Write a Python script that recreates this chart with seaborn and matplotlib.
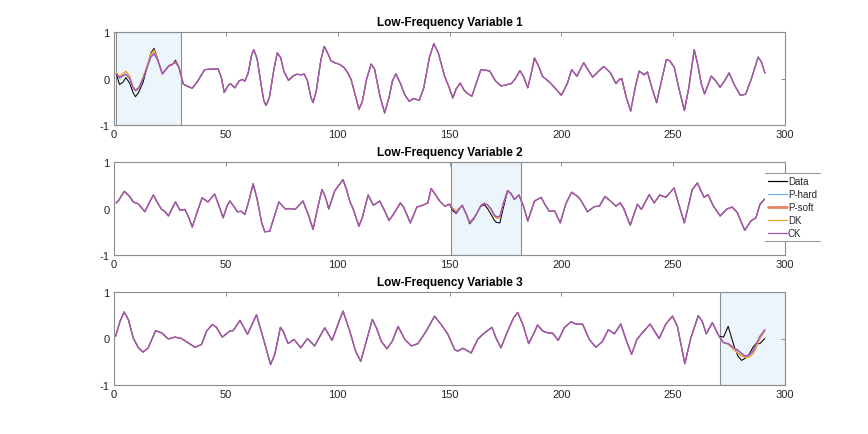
import matplotlib
matplotlib.use("Agg")
import matplotlib.pyplot as plt
from matplotlib.patches import Rectangle
from matplotlib.lines import Line2D
import seaborn as sns

# ---------------- data ----------------
series_names = ["Data", "P-hard", "P-soft", "DK", "CK"]
titles = ["Low-Frequency Variable 1", "Low-Frequency Variable 2", "Low-Frequency Variable 3"]
x_ticks = [0, 50, 100, 150, 200, 250, 300]
y_ticks = [-1, 0, 1]
windows = [(1, 30), (150.5, 182), (271, 300)]

# Variable 1 : highlighted window (models differ)
v1_win_x = [1, 2.5, 4, 5.3, 7, 8.5, 9.6, 11, 13, 15, 16.5, 17.9, 19.5, 21.6, 23, 24.5, 26, 27.5, 29, 31]
v1_win_data = [0.10, -0.13, -0.08, 0.02, -0.10, -0.30, -0.39, -0.30, -0.08, 0.28, 0.55, 0.65, 0.42, 0.10, 0.18, 0.28, 0.30, 0.39, 0.25, -0.12]
v1_win_phard = [0.11, 0.00, 0.05, 0.10, 0.00, -0.20, -0.27, -0.22, 0.00, 0.27, 0.48, 0.56, 0.40, 0.11, 0.18, 0.27, 0.30, 0.36, 0.24, -0.12]
v1_win_psoft = [0.12, 0.04, 0.10, 0.15, 0.05, -0.18, -0.25, -0.20, 0.02, 0.30, 0.52, 0.62, 0.42, 0.11, 0.18, 0.27, 0.31, 0.36, 0.24, -0.12]
v1_win_dk = [0.13, 0.05, 0.11, 0.16, 0.06, -0.17, -0.24, -0.19, 0.03, 0.30, 0.53, 0.60, 0.41, 0.11, 0.18, 0.28, 0.31, 0.36, 0.24, -0.12]
v1_win_ck = [0.10, 0.02, 0.06, 0.09, 0.00, -0.20, -0.26, -0.21, 0.00, 0.26, 0.46, 0.53, 0.40, 0.10, 0.18, 0.27, 0.30, 0.35, 0.24, -0.12]
# Variable 1 : rest (all series overlap)
v1_rest_x = [33, 35, 37.5, 40.5, 43, 46.5, 48, 49.3, 51, 52, 54, 56, 57.5, 58.5, 60, 61.5, 62.5, 64, 66, 67, 68, 69.5,
             71.5, 73, 74.5, 76, 78, 80, 81.5, 84, 85, 86.5, 88, 89, 90.5, 92.5, 94, 95.5, 97, 98.7, 101, 103, 104.5,
             106, 108, 109.5, 111, 113, 115, 116.5, 119, 121, 123, 124.5, 126, 128, 130, 132, 134, 136.5, 138.5, 141,
             143, 145, 147.8, 149.5, 151.5, 153, 154.8, 156.5, 158, 160, 162, 164, 166, 168, 170.5, 173, 175, 177.6,
             179.5, 181.5, 183, 185, 186.5, 188, 190, 191.5, 195, 198, 200, 201.5, 202.8, 204.6, 207, 210, 212, 214,
             216.5, 219, 222, 224.4, 226, 227, 229, 231, 233, 234.8, 237, 238.5, 240.5, 242.6, 245, 247, 248.5, 250.5,
             252.5, 255, 257, 259.4, 261, 262.5, 264, 265.5, 267, 269, 271, 273, 275, 277.5, 280, 282.4, 285, 288,
             289.5, 291]
v1_rest_y = [-0.17, -0.21, -0.05, 0.19, 0.20, 0.21, 0.02, -0.30, -0.15, -0.11, -0.20, -0.05, -0.02, -0.06, 0.12, 0.50,
             0.62, 0.42, -0.20, -0.48, -0.58, -0.40, 0.20, 0.55, 0.45, 0.15, -0.04, 0.05, 0.09, 0.08, 0.10, -0.05,
             -0.40, -0.52, -0.25, 0.40, 0.69, 0.55, 0.38, 0.34, 0.30, 0.23, 0.12, -0.02, -0.38, -0.66, -0.50, 0.00,
             0.31, 0.20, -0.40, -0.74, -0.40, -0.05, 0.10, -0.10, -0.35, -0.49, -0.43, -0.47, -0.20, 0.45, 0.75,
             0.55, 0.05, -0.15, -0.42, -0.22, -0.10, -0.25, -0.32, -0.38, -0.10, 0.19, 0.18, 0.16, -0.05, -0.16,
             -0.14, -0.11, 0.00, 0.17, 0.05, -0.20, 0.10, 0.44, 0.25, 0.05, -0.09, -0.25, -0.36, -0.22, -0.09, 0.19,
             0.05, 0.34, 0.18, 0.03, 0.15, 0.26, 0.12, -0.11, -0.02, 0.00, -0.40, -0.70, -0.20, 0.16, 0.08, 0.14,
             -0.20, -0.52, 0.00, 0.41, 0.38, 0.24, -0.20, -0.69, -0.20, 0.62, 0.30, -0.10, -0.33, -0.15, 0.05,
             -0.05, -0.19, -0.05, 0.12, -0.15, -0.36, -0.34, 0.00, 0.46, 0.35, 0.12]

# Variable 2 : before window
v2_pre_x = [1, 2, 4.6, 7, 8.6, 10.9, 13.8, 15.5, 17.6, 19.5, 21.3, 22.5, 24.3, 26, 27.5, 29.5, 31.7, 33.5, 35, 37,
            39.4, 42, 45, 47, 48.8, 50.5, 51.8, 53.5, 55.2, 57, 58.5, 60.5, 62.2, 64, 66, 67.4, 69.6, 71.5, 73.7,
            76.6, 78.6, 81, 84.5, 87, 89, 91, 93, 94.5, 96, 98.7, 102.4, 104, 105.4, 107, 109.5, 111, 113.6, 116,
            118.8, 121, 123, 125.4, 128, 129.5, 132.5, 135.4, 138, 140.3, 141.8, 144, 145.6, 147.8]
v2_pre_y = [0.12, 0.17, 0.37, 0.26, 0.14, 0.10, -0.07, 0.10, 0.29, 0.12, -0.02, -0.05, -0.16, 0.00, 0.14, -0.04,
            -0.02, -0.20, -0.40, -0.10, 0.23, 0.14, 0.31, 0.05, -0.20, 0.05, 0.16, 0.05, -0.07, -0.06, -0.13, 0.20,
            0.53, 0.20, -0.30, -0.50, -0.49, -0.20, 0.14, -0.01, 0.00, -0.02, 0.16, -0.15, -0.45, 0.00, 0.41, 0.25,
            -0.01, 0.38, 0.62, 0.40, 0.16, -0.02, -0.38, -0.20, 0.29, 0.07, 0.16, -0.05, -0.26, -0.09, 0.12, 0.03,
            -0.31, 0.03, 0.07, 0.12, 0.43, 0.28, 0.16, 0.05]
# Variable 2 : highlighted window
v2_win_x = [150, 151.5, 153, 154.5, 155.7, 157.5, 159, 161, 162.7, 164, 165.6, 167, 168.5, 170, 171, 172.5, 174,
            176, 177.5, 179, 181, 183]
v2_win_data = [0.09, -0.05, -0.11, 0.00, 0.07, -0.12, -0.33, -0.22, -0.06, 0.05, 0.08, 0.00, -0.12, -0.25, -0.30,
               -0.31, 0.00, 0.38, 0.32, 0.20, 0.29, 0.06]
v2_win_phard = [0.09, -0.02, -0.09, 0.00, 0.07, -0.12, -0.30, -0.20, -0.06, 0.06, 0.11, 0.08, 0.00, -0.13, -0.17,
                -0.17, 0.10, 0.39, 0.32, 0.19, 0.29, 0.06]
v2_win_psoft = [0.10, 0.00, -0.06, 0.02, 0.06, -0.13, -0.31, -0.21, -0.07, 0.06, 0.12, 0.07, -0.02, -0.16, -0.20,
                -0.20, 0.08, 0.38, 0.33, 0.20, 0.30, 0.07]
v2_win_dk = [0.10, 0.01, -0.05, 0.02, 0.06, -0.13, -0.31, -0.21, -0.07, 0.06, 0.12, 0.07, -0.02, -0.16, -0.21,
             -0.20, 0.08, 0.38, 0.33, 0.20, 0.30, 0.07]
v2_win_ck = [0.09, -0.02, -0.10, 0.00, 0.07, -0.12, -0.30, -0.20, -0.06, 0.06, 0.11, 0.08, 0.00, -0.14, -0.18,
             -0.17, 0.10, 0.39, 0.32, 0.19, 0.29, 0.06]
# Variable 2 : after window
v2_post_x = [185, 186.5, 188, 191, 192.5, 194.6, 197, 199.5, 202, 204.6, 207.3, 208.8, 211.7, 214.7, 217, 219.5,
             222, 224.4, 226.3, 227.8, 230.8, 234, 235.8, 239.3, 241.5, 244, 246.7, 250.4, 253, 255, 257, 258.5,
             260.8, 263.8, 265.6, 268, 271, 274, 276.4, 278.7, 282, 284.7, 287, 288.8, 291]
v2_post_y = [-0.27, -0.05, 0.16, 0.24, 0.10, -0.06, -0.05, -0.31, 0.10, 0.35, 0.26, 0.17, -0.07, 0.04, 0.05, 0.26,
             0.16, 0.05, 0.12, 0.01, -0.36, 0.09, -0.02, 0.30, 0.12, 0.29, 0.24, 0.44, 0.01, -0.31, 0.09, 0.40,
             0.55, 0.24, 0.30, 0.05, -0.16, -0.01, 0.03, -0.09, -0.47, -0.27, -0.20, 0.09, 0.21]

# Variable 3 : before window
v3_pre_x = [0.7, 2.7, 4.5, 6.4, 8.6, 10.9, 13, 15.3, 18.6, 21.3, 24.3, 27.2, 30.2, 32.4, 36.2, 39.1, 41.4, 44,
            45.8, 48.4, 51.8, 53.3, 56.3, 59.7, 63.7, 66.7, 70, 71.9, 74.4, 75.6, 77.8, 80.5, 83.5, 86.5, 89.7,
            94.2, 97.5, 100.5, 102.4, 105.4, 108, 110.3, 112.8, 115.5, 117.3, 119.5, 122, 124.4, 127, 130, 133,
            135.9, 139.6, 143.3, 146.3, 149.3, 152.3, 153.7, 156, 159.7, 162.6, 164.9, 167.6, 169, 170.8, 173, 176,
            178.6, 180.5, 182.8, 185.4, 187.5, 189.4, 191.7, 194, 196, 198.6, 201.3, 204.3, 206.5, 209.5, 212.5,
            215.5, 218.4, 221, 223.7, 226.6, 228.9, 231.4, 233.8, 235.8, 239.7, 243.7, 246.7, 249.7, 251.9, 255.2,
            257.9, 261.2, 263, 264.8, 267.5]
v3_pre_y = [0.05, 0.37, 0.57, 0.41, 0.01, -0.20, -0.29, -0.20, 0.17, 0.12, -0.01, 0.03, 0.00, -0.07, -0.19, -0.13,
            0.16, 0.30, 0.24, 0.03, 0.16, 0.17, 0.39, 0.09, 0.51, 0.01, -0.56, -0.34, 0.24, 0.16, -0.11, -0.02,
            -0.20, 0.00, -0.16, 0.23, -0.04, 0.35, 0.59, 0.16, -0.27, -0.49, -0.06, 0.41, 0.23, -0.06, -0.22,
            -0.06, 0.26, -0.02, -0.16, -0.11, 0.16, 0.48, 0.30, 0.09, -0.24, -0.27, -0.21, -0.31, -0.02, 0.09,
            0.19, 0.24, 0.01, -0.20, 0.16, 0.44, 0.56, 0.30, -0.11, 0.09, 0.29, 0.16, 0.12, 0.12, -0.04, 0.23,
            0.36, 0.31, 0.31, -0.02, -0.19, -0.06, 0.19, 0.10, 0.31, -0.02, -0.34, -0.02, 0.10, 0.31, 0.00, 0.31,
            0.48, 0.26, -0.54, 0.01, 0.49, 0.37, 0.10, 0.34]
# Variable 3 : highlighted window
v3_win_x = [270.5, 272.5, 274.6, 277.2, 279, 280.6, 282.4, 283.9, 285.8, 287, 288.8, 291]
v3_win_data = [0.05, 0.03, 0.26, -0.16, -0.38, -0.47, -0.42, -0.34, -0.18, -0.11, -0.11, 0.00]
v3_win_phard = [0.05, -0.09, -0.11, -0.21, -0.27, -0.34, -0.39, -0.37, -0.28, -0.14, 0.03, 0.18]
v3_win_psoft = [0.05, -0.08, -0.12, -0.24, -0.31, -0.37, -0.40, -0.40, -0.32, -0.20, 0.00, 0.17]
v3_win_dk = [0.05, -0.08, -0.13, -0.25, -0.32, -0.38, -0.41, -0.40, -0.33, -0.21, -0.01, 0.16]
v3_win_ck = [0.05, -0.09, -0.11, -0.20, -0.25, -0.32, -0.38, -0.35, -0.26, -0.12, 0.05, 0.19]

# ---------------- assemble series ----------------
panels = [
    {"x": v1_win_x + v1_rest_x,
     "Data": v1_win_data + v1_rest_y, "P-hard": v1_win_phard + v1_rest_y,
     "P-soft": v1_win_psoft + v1_rest_y, "DK": v1_win_dk + v1_rest_y, "CK": v1_win_ck + v1_rest_y},
    {"x": v2_pre_x + v2_win_x + v2_post_x,
     "Data": v2_pre_y + v2_win_data + v2_post_y, "P-hard": v2_pre_y + v2_win_phard + v2_post_y,
     "P-soft": v2_pre_y + v2_win_psoft + v2_post_y, "DK": v2_pre_y + v2_win_dk + v2_post_y,
     "CK": v2_pre_y + v2_win_ck + v2_post_y},
    {"x": v3_pre_x + v3_win_x,
     "Data": v3_pre_y + v3_win_data, "P-hard": v3_pre_y + v3_win_phard,
     "P-soft": v3_pre_y + v3_win_psoft, "DK": v3_pre_y + v3_win_dk, "CK": v3_pre_y + v3_win_ck},
]

styles = {
    "Data":   dict(color="#000000", lw=0.75, leg_lw=0.9),
    "P-hard": dict(color="#6DB6E6", lw=0.7, leg_lw=0.9),
    "P-soft": dict(color="#E8845E", lw=0.7, leg_lw=2.0),
    "DK":     dict(color="#EDA820", lw=0.7, leg_lw=0.9),
    "CK":     dict(color="#A055BA", lw=1.0, leg_lw=0.9),
}

# ---------------- figure ----------------
sns.set_style("white")
plt.rcParams["font.family"] = ["Liberation Sans", "DejaVu Sans"]
plt.rcParams["axes.unicode_minus"] = False
plt.rcParams["xtick.direction"] = "in"
plt.rcParams["ytick.direction"] = "in"

W, H = 868, 435
fig = plt.figure(figsize=(W / 100, H / 100), dpi=100)
ax_tops = [33, 163, 293]
ax_h = 93
ax_left, ax_right = 114, 785
spine_c = "#8C8C8C"
axes = []
for k, top in enumerate(ax_tops):
    ax = fig.add_axes([ax_left / W, 1 - (top + ax_h) / H, (ax_right - ax_left) / W, ax_h / H])
    axes.append(ax)
    p = panels[k]
    x0, x1 = windows[k]
    ax.add_patch(Rectangle((x0, -1), x1 - x0, 2, facecolor="#EDF5FC", edgecolor=spine_c,
                           linewidth=0.8, zorder=0.5))
    for name in series_names:
        st = styles[name]
        sns.lineplot(x=p["x"], y=p[name], ax=ax, color=st["color"], linewidth=st["lw"],
                     label=name, estimator=None, sort=False, zorder=2)
    if ax.get_legend() is not None:
        ax.get_legend().remove()
    ax.set_xlim(0, 300)
    ax.set_ylim(-1, 1)
    ax.set_xticks(x_ticks)
    ax.set_yticks(y_ticks)
    ax.set_xlabel("")
    ax.set_ylabel("")
    ax.set_title(titles[k], fontsize=8.5, fontweight="bold", pad=5, color="#000000")
    for s in ax.spines.values():
        s.set_color(spine_c)
        s.set_linewidth(0.8)
    ax.tick_params(axis="both", which="both", direction="in", top=True, right=True,
                   length=3, width=0.7, color=spine_c, labelsize=8, labelcolor="#262626", pad=3)

leg_handles = [Line2D([0], [0], color=styles[n]["color"], lw=styles[n]["leg_lw"]) for n in series_names]
leg = fig.legend(leg_handles, series_names, loc="upper left",
                 bbox_to_anchor=(765 / W, 1 - 174 / H), bbox_transform=fig.transFigure,
                 fontsize=7, frameon=True, fancybox=False, borderaxespad=0, borderpad=0.35,
                 handlelength=1.9, handletextpad=0.1, labelspacing=0.3)
leg.get_frame().set_edgecolor("none")
leg.get_frame().set_facecolor("white")
leg.get_frame().set_alpha(1)
leg.set_zorder(10)

fig.canvas.draw()
bb = leg.get_window_extent().transformed(fig.transFigure.inverted())
for yy in (bb.y0, bb.y1):
    fig.add_artist(Line2D([bb.x0, bb.x1], [yy, yy], transform=fig.transFigure,
                          color="#9A9A9A", lw=0.8, zorder=11))

fig.savefig("out.png", dpi=100, facecolor="white")
